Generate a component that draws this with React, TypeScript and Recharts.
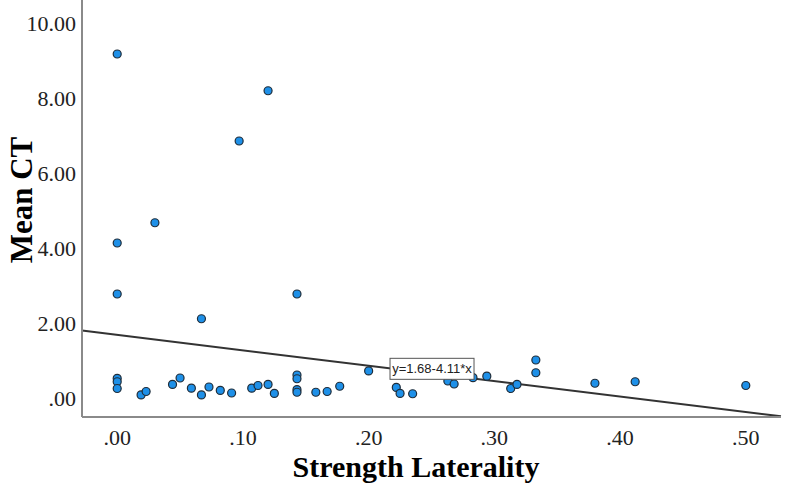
import React from 'react';
import { ScatterChart, Scatter, XAxis, YAxis, ReferenceLine, ReferenceDot, Label } from 'recharts';

// Strength laterality (x) vs mean CT (y)
const lateralityX = [
  0, 0, 0, 0, 0, 0,
  0.019, 0.023, 0.030, 0.044, 0.050, 0.059, 0.067, 0.067, 0.073, 0.082, 0.091,
  0.097, 0.107, 0.112, 0.120, 0.120, 0.125,
  0.143, 0.143, 0.143, 0.143, 0.143, 0.158, 0.167, 0.177,
  0.200, 0.222, 0.225, 0.235, 0.263, 0.268, 0.283, 0.294,
  0.313, 0.318, 0.333, 0.333, 0.380, 0.412, 0.500,
];
const meanCT = [
  9.17, 4.13, 2.77, 0.52, 0.43, 0.25,
  0.08, 0.17, 4.67, 0.36, 0.53, 0.26, 2.11, 0.08, 0.29, 0.20, 0.13,
  6.85, 0.26, 0.33, 8.19, 0.36, 0.12,
  2.77, 0.61, 0.51, 0.22, 0.15, 0.15, 0.17, 0.31,
  0.72, 0.28, 0.12, 0.11, 0.45, 0.37, 0.54, 0.58,
  0.25, 0.36, 1.01, 0.67, 0.39, 0.43, 0.33,
];

const xTicks = [0, 0.1, 0.2, 0.3, 0.4, 0.5];
const yTicks = [0, 2, 4, 6, 8, 10];

// fit line shown on the chart: y = 1.68 - 4.11x
const intercept = 1.68;
const slope = -4.11;
const fitLabel = 'y=1.68-4.11*x';

const xDomain: [number, number] = [-0.028, 0.528];
const yDomain: [number, number] = [-0.51, 10.61];

const points = lateralityX.map((x, i) => ({ x, y: meanCT[i] }));

const fmt = (v: number) => v.toFixed(2).replace(/^0/, '');

const labelX = 0.217;

const FitBox = (props: any) => {
  const { cx, cy } = props;
  return (
    <g>
      <rect x={cx} y={cy - 10} width={84} height={21} fill="#fff" stroke="#555" strokeWidth={1} />
      <text x={cx + 42} y={cy + 5} textAnchor="middle" fontSize={13} fontFamily="Arial, 'Liberation Sans', sans-serif" fill="#222">
        {fitLabel}
      </text>
    </g>
  );
};

export default function App() {
  const serif = "'Times New Roman', 'Liberation Serif', serif";
  return (
    <div style={{ position: 'absolute', left: 0, top: 0, width: 787, height: 488, background: '#fff' }}>
      <ScatterChart width={787} height={488} margin={{ top: 0, right: 6, bottom: 0, left: 0 }}>
        <XAxis
          type="number"
          dataKey="x"
          domain={xDomain}
          ticks={xTicks}
          tickFormatter={fmt}
          stroke="#8a8a8a"
          strokeWidth={2}
          tickLine={false}
          tickSize={0}
          tickMargin={12}
          height={71}
          tick={{ fill: '#222', fontSize: 22, fontFamily: serif }}
        >
          <Label
            content={() => (
              <text x={416} y={477} textAnchor="middle" fontSize={30} fontWeight="bold" fontFamily={serif} fill="#000">
                Strength Laterality
              </text>
            )}
          />
        </XAxis>
        <YAxis
          type="number"
          dataKey="y"
          domain={yDomain}
          ticks={yTicks}
          tickFormatter={fmt}
          stroke="#8a8a8a"
          strokeWidth={2}
          tickLine={false}
          tickSize={0}
          tickMargin={6}
          width={82}
          tick={{ fill: '#222', fontSize: 22, fontFamily: serif }}
        >
          <Label
            content={() => (
              <text
                x={32}
                y={200}
                transform="rotate(-90 32 200)"
                textAnchor="middle"
                fontSize={31}
                fontWeight="bold"
                fontFamily={serif}
                fill="#000"
              >
                Mean CT
              </text>
            )}
          />
        </YAxis>
        <ReferenceLine
          segment={[
            { x: xDomain[0], y: intercept + slope * xDomain[0] },
            { x: xDomain[1], y: intercept + slope * xDomain[1] },
          ]}
          stroke="#333"
          strokeWidth={2}
          ifOverflow="visible"
        />
        <Scatter
          data={points}
          fill="#1e90e8"
          stroke="#1f2d3a"
          strokeWidth={1.2}
          shape={(p: any) => <circle cx={p.cx} cy={p.cy} r={4} fill="#1e90e8" stroke="#1f2d3a" strokeWidth={1.2} />}
          isAnimationActive={false}
        />
        <ReferenceDot
          x={labelX}
          y={intercept + slope * labelX}
          ifOverflow="visible"
          shape={FitBox}
        />
      </ScatterChart>
    </div>
  );
}
